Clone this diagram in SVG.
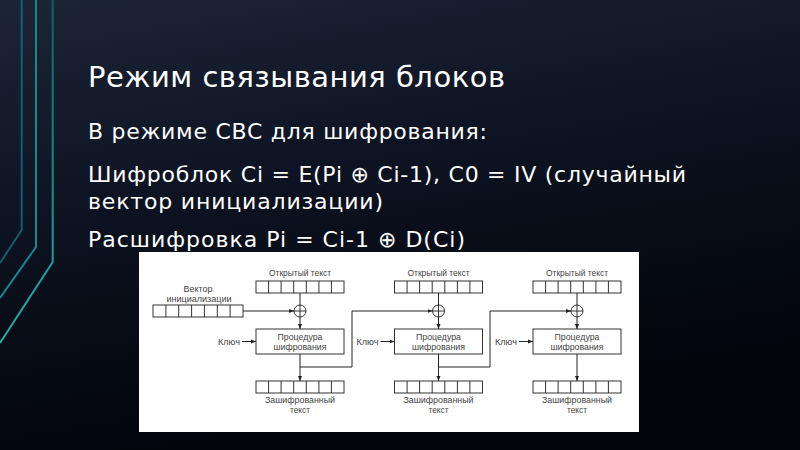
<svg xmlns="http://www.w3.org/2000/svg" width="800" height="450" viewBox="0 0 800 450">
<defs>
<linearGradient id="bg" x1="0" y1="0" x2="0.3" y2="1">
<stop offset="0" stop-color="#1c2536"/>
<stop offset="0.45" stop-color="#0d1322"/>
<stop offset="1" stop-color="#020409"/>
</linearGradient>
<linearGradient id="tealG" x1="0" y1="0" x2="0" y2="1">
<stop offset="0" stop-color="#0f5f66"/>
<stop offset="1" stop-color="#22b3a6"/>
</linearGradient>
<marker id="ah" viewBox="0 0 10 10" refX="10" refY="5" markerWidth="5" markerHeight="5" orient="auto" markerUnits="userSpaceOnUse">
<path d="M0,1 L10,5 L0,9 z" fill="#222"/>
</marker>
</defs>
<style>
.h{font-family:"DejaVu Sans",sans-serif;fill:#ffffff}
.t{font-family:"Liberation Sans",Arial,sans-serif;font-size:9px;fill:#444;text-anchor:middle}
.tk{font-family:"Liberation Sans",Arial,sans-serif;font-size:9px;fill:#444;text-anchor:end}
.reg{fill:#fff;stroke:#333;stroke-width:1}
.cell{stroke:#333;stroke-width:1}
.box{fill:#fff;stroke:#333;stroke-width:1}
.ln{fill:none;stroke:#222;stroke-width:1}
.ar{fill:none;stroke:#222;stroke-width:1;marker-end:url(#ah)}
.deco{fill:none;stroke-width:2}
</style>
<rect width="800" height="450" fill="url(#bg)"/>
<g id="decor">
<polyline class="deco" points="21.7,0 21.7,230 0,263" stroke="#13727a" opacity="0.8"/>
<polyline class="deco" points="36,0 36,247 0,298" stroke="#168a8a"/>
<polyline class="deco" points="52.7,0 52.7,262 0,343" stroke="url(#tealG)"/>
</g>
<g id="title"><text class="h" x="88" y="87" font-size="29" textLength="417" lengthAdjust="spacing">Режим связывания блоков</text></g>
<g id="body">
<text class="h" x="88" y="139" font-size="22" textLength="399" lengthAdjust="spacing">В режиме CBC для шифрования:</text>
<text class="h" x="88" y="182" font-size="22" textLength="598" lengthAdjust="spacing">Шифроблок Ci = E(Pi ⊕ Ci-1), C0 = IV (случайный</text>
<text class="h" x="88" y="209" font-size="22" textLength="295" lengthAdjust="spacing">вектор инициализации)</text>
<text class="h" x="88" y="247" font-size="22" textLength="377" lengthAdjust="spacing">Расшифровка Pi = Ci-1 ⊕ D(Ci)</text>
</g>
<rect id="panel" x="139" y="252" width="500" height="180" fill="#ffffff"/>
<g id="iv">
<text class="t" x="198" y="292" textLength="29" lengthAdjust="spacingAndGlyphs">Вектор</text>
<text class="t" x="199" y="302" textLength="65" lengthAdjust="spacingAndGlyphs">инициализации</text>
<rect class="reg" x="153" y="305" width="90" height="12"/>
<path class="cell" d="M165.9,305v12M178.7,305v12M191.6,305v12M204.4,305v12M217.3,305v12M230.1,305v12"/>
</g>
<g id="block1">
<text class="t" x="300" y="276" textLength="62" lengthAdjust="spacingAndGlyphs">Открытый текст</text>
<rect class="reg" x="256" y="281" width="88" height="12"/>
<path class="cell" d="M268.6,281v12M281.1,281v12M293.7,281v12M306.3,281v12M318.9,281v12M331.4,281v12"/>
<circle cx="300" cy="311" r="6" fill="#fff" stroke="#333"/>
<path class="cell" d="M294,311h12M300,305v12"/>
<rect class="box" x="256" y="329" width="88" height="25"/>
<text class="t" x="300" y="340" textLength="45" lengthAdjust="spacingAndGlyphs">Процедура</text>
<text class="t" x="300" y="350" textLength="53" lengthAdjust="spacingAndGlyphs">шифрования</text>
<text class="tk" x="240" y="345" textLength="22" lengthAdjust="spacingAndGlyphs">Ключ</text>
<rect class="reg" x="256" y="381" width="88" height="12"/>
<path class="cell" d="M268.6,381v12M281.1,381v12M293.7,381v12M306.3,381v12M318.9,381v12M331.4,381v12"/>
<text class="t" x="300" y="403" textLength="70" lengthAdjust="spacingAndGlyphs">Зашифрованный</text>
<text class="t" x="300" y="413" textLength="20" lengthAdjust="spacingAndGlyphs">текст</text>
</g>
<g id="block2">
<text class="t" x="438.5" y="276" textLength="62" lengthAdjust="spacingAndGlyphs">Открытый текст</text>
<rect class="reg" x="394.5" y="281" width="88" height="12"/>
<path class="cell" d="M407.1,281v12M419.6,281v12M432.2,281v12M444.8,281v12M457.4,281v12M469.9,281v12"/>
<circle cx="438.5" cy="311" r="6" fill="#fff" stroke="#333"/>
<path class="cell" d="M432.5,311h12M438.5,305v12"/>
<rect class="box" x="394.5" y="329" width="88" height="25"/>
<text class="t" x="438.5" y="340" textLength="45" lengthAdjust="spacingAndGlyphs">Процедура</text>
<text class="t" x="438.5" y="350" textLength="53" lengthAdjust="spacingAndGlyphs">шифрования</text>
<text class="tk" x="378.5" y="345" textLength="22" lengthAdjust="spacingAndGlyphs">Ключ</text>
<rect class="reg" x="394.5" y="381" width="88" height="12"/>
<path class="cell" d="M407.1,381v12M419.6,381v12M432.2,381v12M444.8,381v12M457.4,381v12M469.9,381v12"/>
<text class="t" x="438.5" y="403" textLength="70" lengthAdjust="spacingAndGlyphs">Зашифрованный</text>
<text class="t" x="438.5" y="413" textLength="20" lengthAdjust="spacingAndGlyphs">текст</text>
</g>
<g id="block3">
<text class="t" x="577" y="276" textLength="62" lengthAdjust="spacingAndGlyphs">Открытый текст</text>
<rect class="reg" x="533" y="281" width="88" height="12"/>
<path class="cell" d="M545.6,281v12M558.1,281v12M570.7,281v12M583.3,281v12M595.9,281v12M608.4,281v12"/>
<circle cx="577" cy="311" r="6" fill="#fff" stroke="#333"/>
<path class="cell" d="M571,311h12M577,305v12"/>
<rect class="box" x="533" y="329" width="88" height="25"/>
<text class="t" x="577" y="340" textLength="45" lengthAdjust="spacingAndGlyphs">Процедура</text>
<text class="t" x="577" y="350" textLength="53" lengthAdjust="spacingAndGlyphs">шифрования</text>
<text class="tk" x="517" y="345" textLength="22" lengthAdjust="spacingAndGlyphs">Ключ</text>
<rect class="reg" x="533" y="381" width="88" height="12"/>
<path class="cell" d="M545.6,381v12M558.1,381v12M570.7,381v12M583.3,381v12M595.9,381v12M608.4,381v12"/>
<text class="t" x="577" y="403" textLength="70" lengthAdjust="spacingAndGlyphs">Зашифрованный</text>
<text class="t" x="577" y="413" textLength="20" lengthAdjust="spacingAndGlyphs">текст</text>
</g>
<g id="connectors">
<line class="ar" x1="243" y1="311" x2="294" y2="311"/>
<line class="ln" x1="300" y1="293" x2="300" y2="305"/>
<line class="ar" x1="300" y1="317" x2="300" y2="329"/>
<line class="ar" x1="242" y1="341.5" x2="256" y2="341.5"/>
<line class="ar" x1="300" y1="354" x2="300" y2="381"/>
<polyline class="ar" points="300,367 352,367 352,311 432.5,311"/>
<line class="ln" x1="438.5" y1="293" x2="438.5" y2="305"/>
<line class="ar" x1="438.5" y1="317" x2="438.5" y2="329"/>
<line class="ar" x1="380.5" y1="341.5" x2="394.5" y2="341.5"/>
<line class="ar" x1="438.5" y1="354" x2="438.5" y2="381"/>
<polyline class="ar" points="438.5,367 490,367 490,311 571,311"/>
<line class="ln" x1="577" y1="293" x2="577" y2="305"/>
<line class="ar" x1="577" y1="317" x2="577" y2="329"/>
<line class="ar" x1="519" y1="341.5" x2="533" y2="341.5"/>
<line class="ar" x1="577" y1="354" x2="577" y2="381"/>
</g>
</svg>
